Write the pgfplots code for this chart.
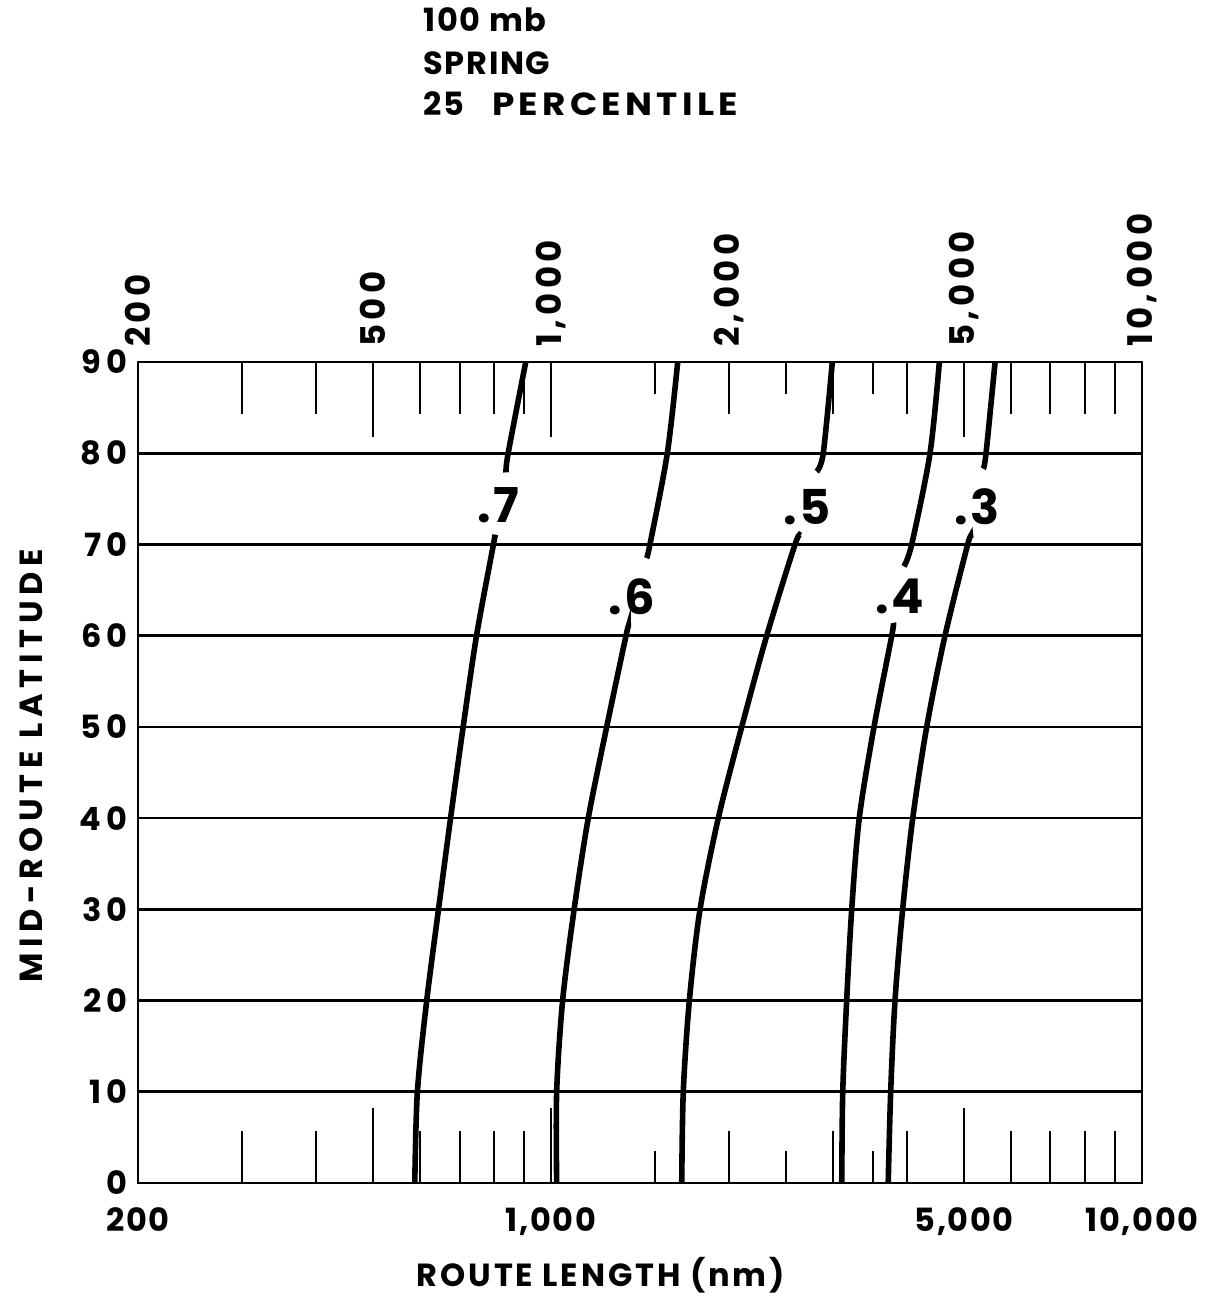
\documentclass[border=0pt]{standalone}
\usepackage{graphicx}
\usepackage{pgfplots}
\pgfplotsset{compat=1.18}
\usepackage{fontspec}
\setmainfont{Poppins}
\newfontfamily\lero{Poppins}[LetterSpace=5]
\newcommand{\lbl}{\lero\bfseries\fontsize{16pt}{19pt}\selectfont}
\newcommand{\toplbl}{\lero\bfseries\fontsize{17pt}{20pt}\selectfont\addfontfeature{LetterSpace=13}}
\newcommand{\curvelbl}{\lero\bfseries\fontsize{24pt}{27pt}\selectfont}
\newcommand{\spc}[2]{{\addfontfeature{LetterSpace=#1}#2}}
\begin{document}
\begin{tikzpicture}
\begin{axis}[
  at={(0,0)}, anchor=south west,
  scale only axis, width=502pt, height=410.5pt,
  xmode=log, xmin=200, xmax=10000, ymin=0, ymax=90,
  xtick={200,500,1000,5000,10000},
  xticklabels={200,,{1,000},{5,000},{10,000}},
  minor xtick={300,400,600,700,800,900,2000,3000,4000,6000,7000,8000,9000},
  extra x ticks={1500,2500,3500},
  extra x tick labels={},
  extra x tick style={major tick length=16pt},
  xtick pos=both, ytick pos=left,
  tick align=inside,
  major tick length=37.5pt,
  minor tick length=26pt,
  tick style={black, line width=1pt},
  ytick={0,10,...,90},
  yticklabels={\spc{14}{0},\spc{14}{10},\spc{14}{20},\spc{14}{30},\spc{14}{40},\spc{14}{50},\spc{14}{60},\spc{14}{70},\spc{14}{80},\spc{14}{90}},
  ymajorgrids,
  major grid style={black, line width=1.3pt},
  axis line style={black, line width=1.1pt},
  ticklabel style={font=\lbl},
  xticklabel shift=9pt,
  yticklabel shift=2pt,
  xlabel={\spc{9}{ROUTE LENGTH (nm)}},
  ylabel={\spc{18}{MID-ROUTE LATITUDE}},
  label style={font=\lbl},
  xlabel style={at={(axis description cs:0.461,-0.112)}, anchor=center},
  ylabel style={at={(axis description cs:-0.1066,0.508)}, anchor=center},
  clip=false,
]
% .7
\addplot[black, line width=2.8pt, smooth] coordinates {(588,0) (594,10) (616,20) (645,30) (676,40) (710,50) (748,60) (799,70) (804,71)};
\addplot[black, line width=2.8pt, smooth] coordinates {(839,77.9) (846,80) (906,90)};
% .6
\addplot[black, line width=2.8pt, smooth] coordinates {(1022,0) (1022,10) (1046,20) (1094,30) (1156,40) (1242,50) (1339,60) (1351,60.9)};
\addplot[black, line width=2.8pt, smooth] coordinates {(1451,68.5) (1470,70) (1573,80) (1638,90)};
% .5
\addplot[black, line width=2.8pt, smooth] coordinates {(1664,0) (1674,10) (1714,20) (1787,30) (1919,40) (2102,50) (2317,60) (2587,70) (2644,71)};
\addplot[black, line width=2.8pt, smooth] coordinates {(2815,78) (2888,80) (2992,90)};
% .4
\addplot[black, line width=2.8pt, smooth] coordinates {(3104,0) (3116,10) (3164,20) (3227,30) (3323,40) (3520,50) (3772,60) (3795,61.4)};
\addplot[black, line width=2.8pt, smooth] coordinates {(3956,67.6) (4076,70) (4378,80) (4540,90)};
% .3
\addplot[black, line width=2.8pt, smooth] coordinates {(3720,0) (3756,10) (3820,20) (3936,30) (4093,40) (4322,50) (4641,60) (5070,70) (5130,70.7)};
\addplot[black, line width=2.8pt, smooth] coordinates {(5388,78.3) (5446,80) (5641,90)};
\node[font=\curvelbl] at (axis cs:814,74.3) {.7};
\node[font=\curvelbl] at (axis cs:1369,64.3) {.6};
\node[font=\curvelbl] at (axis cs:2708,74.1) {.5};
\node[font=\curvelbl] at (axis cs:3896,64.3) {.4};
\node[font=\curvelbl] at (axis cs:5250,74.1) {.3};
\node[font=\lbl, anchor=base west] at (rel axis cs:0.2775,1.4023) {100 mb};
\node[font=\lbl, anchor=base west] at (rel axis cs:0.2775,1.3508) {SPRING};
\node[font=\lbl, anchor=base west] at (rel axis cs:0.2775,1.3008) {25\hspace{14pt}\scalebox{1.12}[1]{\spc{12}{PERCENTILE}}};
\end{axis}
\begin{axis}[
  at={(0,0)}, anchor=south west,
  scale only axis, width=502pt, height=410.5pt,
  xmode=log, xmin=200, xmax=10000, ymin=0, ymax=90,
  axis line style={draw=none},
  xtick={200,500,1000,2000,5000,10000},
  xticklabels={200,500,{1,000},{2,000},{5,000},{10,000}},
  xticklabel pos=upper,
  minor xtick={},
  major tick length=0pt,
  tick style={draw=none},
  ytick=\empty,
  xticklabel style={font=\toplbl, rotate=90, anchor=west},
  xticklabel shift=4pt,
]
\addplot[draw=none] coordinates {(200,0) (10000,90)};
\end{axis}
\pgfresetboundingbox
\path[use as bounding box] (-69pt,-56.5pt) rectangle (539pt,591.5pt);
\end{tikzpicture}
\end{document}
